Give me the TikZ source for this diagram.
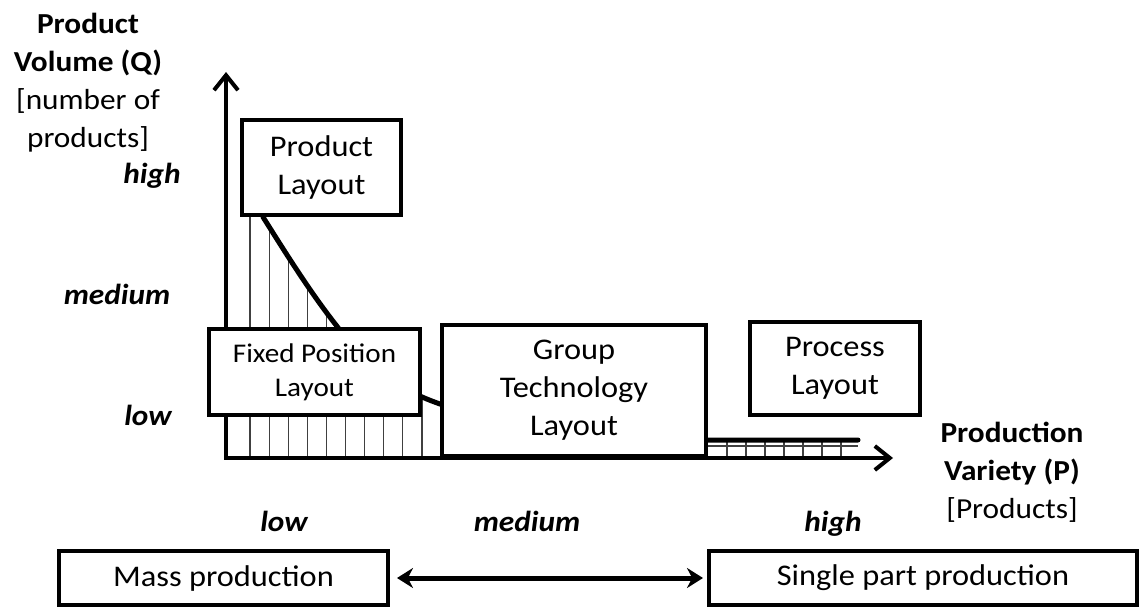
\documentclass[tikz,border=0pt]{standalone}
\usepackage{fontspec}
\setmainfont{Carlito}[FakeStretch=1.08]
\usetikzlibrary{arrows.meta}
\tikzset{
  layoutbox/.style={draw, line width=4pt, fill=white, inner sep=0pt, align=center,
    font=\fontsize{30}{38}\selectfont},
  levellabel/.style={font=\fontsize{29}{32}\selectfont\bfseries\itshape, inner sep=0pt, anchor=base},
  axislabel/.style={align=center, inner sep=0pt, font=\fontsize{29}{38}\selectfont},
  axisline/.style={line width=4pt, -{Straight Barb[length=15pt,width=24pt,line width=4pt]}},
  hatch/.style={line width=1.2pt, black!75},
  trend/.style={line width=5pt, line cap=round},
  linktip/.tip={Stealth[length=16pt,width=20pt]},
}
\begin{document}
\begin{tikzpicture}[x=1pt,y=-1pt]
\useasboundingbox (0,0) rectangle (1141,610);

% axis reference points
\coordinate (O) at (226,458);
\coordinate (ytip) at (226,72);
\coordinate (xtip) at (893,458);

% hatching under the volume/variety trend
\begin{scope}
  \clip (226,200) -- (263,200) -- (263,217)
        .. controls (285,252) and (310,292) .. (336,325)
        .. controls (370,370) and (400,390) .. (440,404)
        .. controls (520,432) and (620,440) .. (708,440)
        -- (858,440) -- (858,458) -- (226,458) -- cycle;
  \foreach \i in {0,...,9} \draw[hatch] (250+19.1*\i,150) -- (250+19.1*\i,458);
  \foreach \i in {0,...,6} \draw[hatch] (727+19*\i,430) -- (727+19*\i,458);
  \draw[hatch] (708,446) -- (858,446);
\end{scope}

% trend curve
\draw[trend] (263,217)
  .. controls (285,252) and (310,292) .. (336,325)
  .. controls (370,370) and (400,390) .. (440,404)
  .. controls (520,432) and (620,440) .. (708,440)
  -- (858,440);

% axes
\draw[axisline] (O) -- (ytip);
\draw[axisline] ([xshift=-2pt]O) -- (xtip);

% layout boxes
\node[layoutbox, minimum width=159pt, minimum height=95pt] (prod) at (321.5,167.5) {Product\\Layout};
\node[layoutbox, minimum width=211pt, minimum height=86pt,
      font=\fontsize{27}{34}\selectfont] (fixed) at (314.5,372) {Fixed Position\\Layout};
\node[layoutbox, minimum width=264pt, minimum height=131pt] (group) at (574,390.5) {Group\\Technology\\Layout};
\node[layoutbox, minimum width=170pt, minimum height=93pt] (proc) at (835,368.5) {Process\\Layout};

% axis titles
\node[axislabel] (qlabel) at (88,83) {\textbf{Product}\\\textbf{Volume (Q)}\\{[}number of\\products{]}};
\node[axislabel] (plabel) at (1012,472) {\textbf{Production}\\\textbf{Variety (P)}\\{[}Products{]}};

% volume levels
\node[levellabel] (qhigh) at (152,183) {high};
\node[levellabel] (qmed) at (117,304) {medium};
\node[levellabel] (qlow) at (148,425) {low};

% variety levels
\node[levellabel] (plow) at (284,531) {low};
\node[levellabel] (pmed) at (527,531) {medium};
\node[levellabel] (phigh) at (833,531) {high};

% production types
\node[layoutbox, minimum width=329pt, minimum height=54pt] (mass) at (223.5,578) {Mass production};
\node[layoutbox, minimum width=428pt, minimum height=54pt] (single) at (923,578) {Single part production};
\draw[line width=5pt, linktip-linktip, shorten <=7pt, shorten >=4pt] (mass.east) -- (single.west);
\end{tikzpicture}
\end{document}
